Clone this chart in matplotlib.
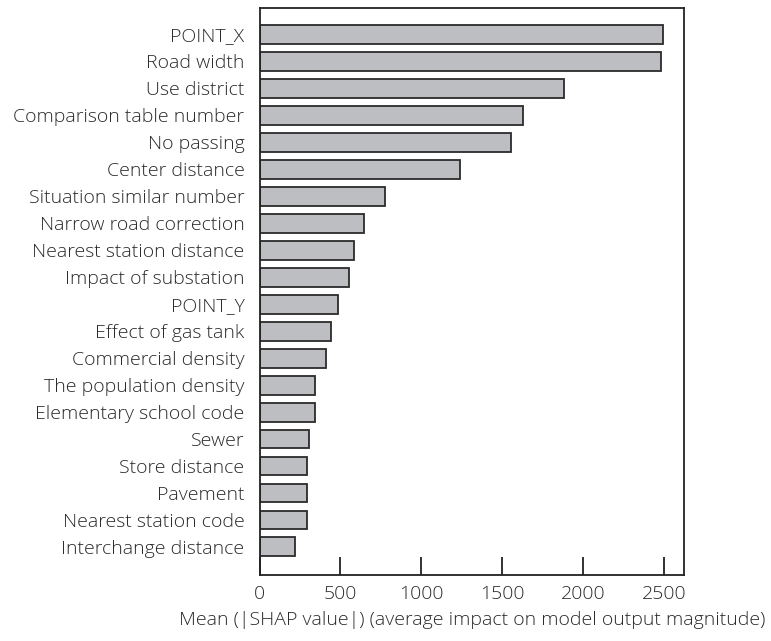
import matplotlib
matplotlib.use("Agg")
import matplotlib.pyplot as plt

features = [
    "POINT_X", "Road width", "Use district", "Comparison table number",
    "No passing", "Center distance", "Situation similar number",
    "Narrow road correction", "Nearest station distance", "Impact of substation",
    "POINT_Y", "Effect of gas tank", "Commercial density", "The population density",
    "Elementary school code", "Sewer", "Store distance", "Pavement",
    "Nearest station code", "Interchange distance",
]
mean_shap = [
    2497, 2481, 1885, 1631, 1556, 1241, 777, 643, 581, 555,
    486, 441, 408, 344, 344, 305, 293, 293, 293, 220,
]
x_ticks = [0, 500, 1000, 1500, 2000, 2500]
x_label = "Mean (|SHAP value|) (average impact on model output magnitude)"

plt.rcParams["font.family"] = ["Open Sans", "DejaVu Sans"]
plt.rcParams["font.weight"] = "light"

fig = plt.figure(figsize=(7.71, 6.41), dpi=100)
ax = fig.add_axes([0.3368, 0.1030, 0.5507, 0.8845])

n = len(features)
ypos = list(range(n - 1, -1, -1))
ax.barh(ypos, mean_shap, height=0.7, color="#bdbec2",
        edgecolor="#2b2b2b", linewidth=1.3)

text_color = "#2a2a2a"
ax.set_xlim(0, 2627)
ax.set_ylim(-1.04, n - 0.02)
ax.set_yticks(ypos)
ax.set_yticklabels(features, fontsize=14, color=text_color, fontweight="light")
ax.set_xticks(x_ticks)
ax.set_xticklabels([str(t) for t in x_ticks], fontsize=14, color=text_color,
                   fontweight="light")
ax.tick_params(axis="y", length=0, pad=11)
ax.tick_params(axis="x", direction="in", length=13, width=1.3,
               color="#222222", pad=7)
for s in ax.spines.values():
    s.set_linewidth(1.3)
    s.set_color("#222222")

ax.set_xlabel(x_label, fontsize=14, color=text_color, fontweight="light",
              labelpad=6)

fig.savefig("out.png", dpi=100)
